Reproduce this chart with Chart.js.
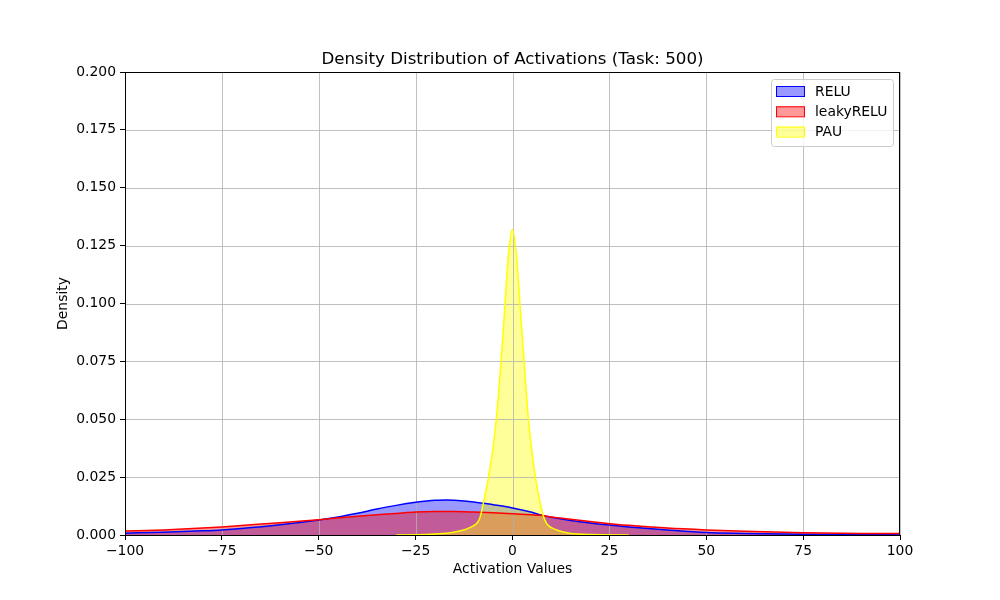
<!DOCTYPE html>
<html>
<head>
<meta charset="utf-8">
<script src="https://cdn.jsdelivr.net/npm/chart.js@4"></script>
<style>
  html, body { margin: 0; padding: 0; background: #fff; }
  #wrap { width: 1000px; height: 600px; position: relative; }
</style>
</head>
<body>
<div id="wrap"><canvas id="densityChart"></canvas></div>
<script>
/* KDE curves */

const chartTitle = "Density Distribution of Activations (Task: 500)";
const seriesNames = ["RELU", "leakyRELU", "PAU"];
const lineColors = ["#0000ff", "#ff0000", "#ffff00"];
const fillColors = ["rgba(0,0,255,0.4)", "rgba(255,0,0,0.4)", "rgba(255,255,0,0.4)"];

const reluX = [-100, -90, -80, -75, -70, -60, -50, -45, -40, -35, -30, -25, -20, -17, -15, -10, -5, 0, 5, 7, 10, 15, 20, 25, 30, 40, 50, 60, 75, 90, 100];
const reluY = [0.0008, 0.0012, 0.0018, 0.0022, 0.0028, 0.0044, 0.0065, 0.0078, 0.0094, 0.0112, 0.0128, 0.0141, 0.0150, 0.0151, 0.0150, 0.0143, 0.0131, 0.0117, 0.0098, 0.0088, 0.0077, 0.0063, 0.0052, 0.0043, 0.0035, 0.0022, 0.0011, 0.0007, 0.0003, 0.0002, 0.0001];

const leakyX = [-100, -90, -80, -75, -70, -60, -50, -40, -30, -25, -20, -15, -10, -5, 0, 5, 7, 10, 15, 20, 25, 30, 40, 50, 60, 75, 90, 100];
const leakyY = [0.0017, 0.0022, 0.0030, 0.0035, 0.0041, 0.0053, 0.0066, 0.0081, 0.0093, 0.0099, 0.0101, 0.0101, 0.0099, 0.0096, 0.0092, 0.0087, 0.0085, 0.0078, 0.0068, 0.0058, 0.0049, 0.0042, 0.0030, 0.0022, 0.0016, 0.0010, 0.0007, 0.0006];

const pauX = [-30, -22, -18, -16, -14, -12, -10, -9, -8.5, -8, -7.5, -7, -6.5, -6, -5, -4, -3, -2, -1, 0, 1, 2, 3, 4, 5, 6, 7, 7.5, 8, 8.5, 9, 10, 12, 14, 16, 20, 30];
const pauY = [0, 0.0002, 0.0006, 0.001, 0.0016, 0.0025, 0.004, 0.0055, 0.007, 0.010, 0.014, 0.018, 0.022, 0.027, 0.038, 0.053, 0.074, 0.098, 0.122, 0.132, 0.121, 0.098, 0.075, 0.052, 0.036, 0.024, 0.015, 0.011, 0.008, 0.006, 0.0045, 0.0032, 0.0018, 0.001, 0.0005, 0.0002, 0];

const xTicksStep = 25;
const yTicksStep = 0.025;

const FONT = "'DejaVu Sans', sans-serif";

function toPoints(xs, ys) {
  return xs.map((x, i) => ({ x, y: ys[i] }));
}

// grid above the fills, below the lines (matplotlib axisbelow='line')
const gridOverFills = {
  id: "gridOverFills",
  beforeDatasetsDraw(chart) {
    const { ctx, chartArea: a, scales } = chart;
    ctx.save();
    ctx.strokeStyle = "#b0b0b0";
    ctx.lineWidth = 0.8;
    ctx.beginPath();
    scales.x.ticks.forEach((t) => {
      const px = Math.round(scales.x.getPixelForValue(t.value)) + 0.5;
      ctx.moveTo(px, a.top);
      ctx.lineTo(px, a.bottom);
    });
    scales.y.ticks.forEach((t) => {
      const py = Math.round(scales.y.getPixelForValue(t.value)) + 0.5;
      ctx.moveTo(a.left, py);
      ctx.lineTo(a.right, py);
    });
    ctx.stroke();
    ctx.restore();
  },
};

const frameAndLegend = {
  id: "frameAndLegend",
  afterDraw(chart) {
    const { ctx, chartArea: a } = chart;
    ctx.save();
    ctx.strokeStyle = "#000";
    ctx.lineWidth = 1;
    ctx.strokeRect(a.left + 0.5, a.top + 0.5, a.right - a.left - 1, a.bottom - a.top);

    // title centred over the axes
    ctx.fillStyle = "#000";
    ctx.font = "16.7px " + FONT;
    ctx.textAlign = "center";
    ctx.textBaseline = "middle";
    ctx.fillText(chartTitle, (a.left + a.right) / 2, a.top - 12);

    // legend box, upper right
    const bx = a.right - 129, by = a.top + 7, bw = 122, bh = 67;
    ctx.beginPath();
    ctx.roundRect(bx + 0.5, by + 0.5, bw, bh, 3);
    ctx.fillStyle = "rgba(255,255,255,0.8)";
    ctx.fill();
    ctx.strokeStyle = "#cccccc";
    ctx.stroke();

    ctx.font = "13.9px " + FONT;
    ctx.textAlign = "left";
    chart.data.datasets.forEach((ds, i) => {
      const cy = by + 12 + i * 20.3;
      ctx.fillStyle = ds.backgroundColor;
      ctx.fillRect(bx + 5, cy - 5, 28, 10);
      ctx.strokeStyle = ds.borderColor;
      ctx.lineWidth = 1;
      ctx.strokeRect(bx + 5.5, cy - 4.5, 28, 10);
      ctx.fillStyle = "#000";
      ctx.fillText(ds.label, bx + 44, cy + 1);
    });
    ctx.restore();
  },
};

document.addEventListener("DOMContentLoaded", () => {
  const ctx = document.getElementById("densityChart").getContext("2d");
  const pointSets = [toPoints(reluX, reluY), toPoints(leakyX, leakyY), toPoints(pauX, pauY)];

  new Chart(ctx, {
    type: "line",
    data: {
      datasets: seriesNames.map((name, i) => ({
        label: name,
        data: pointSets[i],
        borderColor: lineColors[i],
        backgroundColor: fillColors[i],
        borderWidth: 1.5,
        fill: "origin",
        pointRadius: 0,
        tension: 0.4,
        cubicInterpolationMode: "monotone",
        order: seriesNames.length - i,
      })),
    },
    options: {
      responsive: true,
      maintainAspectRatio: false,
      animation: false,
      layout: { padding: { left: 0, right: 100, top: 72, bottom: 0 } },
      plugins: {
        legend: { display: false },
        tooltip: { enabled: false },
        filler: { drawTime: "beforeDatasetsDraw" },
        title: { display: false },
      },
      scales: {
        x: {
          type: "linear",
          min: -100,
          max: 100,
          ticks: {
            stepSize: xTicksStep,
            color: "#000",
            padding: 3,
            maxRotation: 0,
            font: { family: FONT, size: 13.9 },
            callback: (v) => String(v).replace("-", "\u2212"),
          },
          grid: { color: "rgba(0,0,0,0)", tickColor: "#000", tickLength: 5 },
          border: { color: "#000", width: 1 },
          title: {
            display: true,
            text: "Activation Values",
            color: "#000",
            font: { family: FONT, size: 13.9 },
            padding: { top: 0, bottom: 22 },
          },
          afterFit(scale) { scale.height = 65; },
        },
        y: {
          min: 0,
          max: 0.2,
          ticks: {
            stepSize: yTicksStep,
            color: "#000",
            padding: 4,
            font: { family: FONT, size: 13.9 },
            callback: (v) => v.toFixed(3),
          },
          grid: { color: "rgba(0,0,0,0)", tickColor: "#000", tickLength: 5 },
          border: { color: "#000", width: 1 },
          title: {
            display: true,
            text: "Density",
            color: "#000",
            font: { family: FONT, size: 13.9 },
            padding: { top: 55, bottom: 0 },
          },
          afterFit(scale) { scale.width = 125; },
        },
      },
    },
    plugins: [gridOverFills, frameAndLegend],
  });
});
</script>
</body>
</html>
